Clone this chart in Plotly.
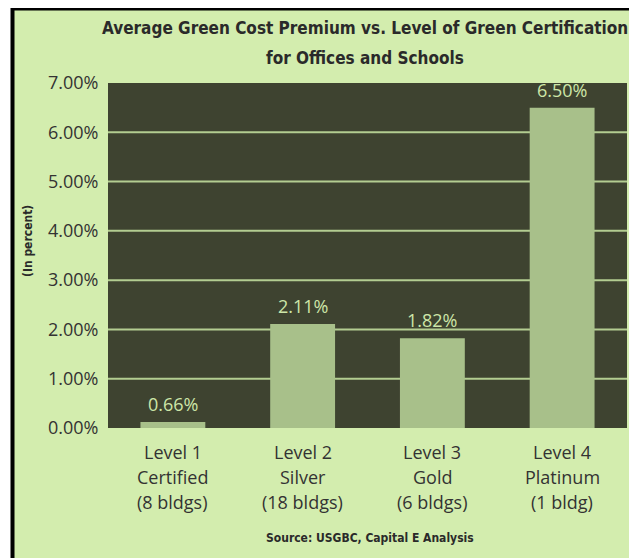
import plotly.graph_objects as go

# ---- data ----
levels = ["Level 1", "Level 2", "Level 3", "Level 4"]
cert_names = ["Certified", "Silver", "Gold", "Platinum"]
building_counts = ["(8 bldgs)", "(18 bldgs)", "(6 bldgs)", "(1 bldg)"]
premium_pct = [0.66, 2.11, 1.82, 6.50]          # labelled values
bar_heights_as_drawn = [0.12, 2.11, 1.82, 6.50]  # bar 1 is drawn far shorter than its label in the original
y_ticks = [0, 1, 2, 3, 4, 5, 6, 7]
grid_values = [1, 2, 3, 4, 5, 6]

title_lines = ["Average Green Cost Premium vs. Level of Green Certification",
               "for Offices and Schools"]
y_title = "(In percent)"
source = "Source: USGBC, Capital E Analysis"

# ---- layout geometry (page pixels; the page body adds an 8px offset) ----
OFF = 8
PAGE_W, PAGE_H = 637, 558
W, H = PAGE_W - OFF, PAGE_H - OFF
PLOT_L, PLOT_R, PLOT_T, PLOT_B = 108, 627, 83, 428  # page px
L, R = PLOT_L - OFF, W - (PLOT_R - OFF)
T, B = PLOT_T - OFF, H - (PLOT_B - OFF)
PW, PH = PLOT_R - PLOT_L, PLOT_B - PLOT_T

LIGHT = "#d3edae"
DARK = "#3e4330"
BAR = "#a8c08a"
GRID = "#b3cd91"
LABEL = "#cde6a8"
TEXT = "#333333"
COND = "Liberation Sans Narrow, DejaVu Sans Condensed, Arial Narrow, sans-serif"
REG = "Open Sans, Noto Sans, sans-serif"


def px_x(p):
    return (p - PLOT_L) / PW


def px_y(p):
    return (PLOT_B - p) / PH


fig = go.Figure()
fig.add_trace(go.Bar(
    x=levels,
    y=bar_heights_as_drawn,
    marker=dict(color=BAR, line=dict(width=0)),
    hoverinfo="skip",
))

shapes = [
    # outer framed panel
    dict(type="rect", xref="paper", yref="paper", layer="below",
         x0=px_x(12.5), x1=px_x(633.5), y0=px_y(580), y1=px_y(8.5),
         fillcolor=LIGHT, line=dict(color="black", width=4)),
    # plot area
    dict(type="rect", xref="paper", yref="paper", layer="below",
         x0=0, x1=1, y0=0, y1=1, fillcolor=DARK, line=dict(width=0)),
]
for g in grid_values:
    shapes.append(dict(type="line", xref="paper", yref="y", layer="below",
                       x0=0, x1=1, y0=g, y1=g, line=dict(color=GRID, width=2)))

annotations = []
# value labels above the bars
for cat, h, v in zip(levels, bar_heights_as_drawn, premium_pct):
    annotations.append(dict(text=f"{v:.2f}%", xref="x", yref="y", x=cat, y=h,
                            xanchor="center", yanchor="bottom", yshift=4, showarrow=False,
                            font=dict(family=REG, size=18, color=LABEL)))
for i, line in enumerate(title_lines):
    annotations.append(dict(text=f"<b>{line}</b>", xref="paper", yref="paper",
                            x=px_x(365), y=px_y(28 + 30 * i), xanchor="center", yanchor="middle",
                            showarrow=False, font=dict(family=COND, size=17, color="#2a2a2a")))
annotations.append(dict(text=f"<b>{y_title}</b>", xref="paper", yref="paper",
                        x=px_x(28), y=px_y(241), textangle=-90, xanchor="center", yanchor="middle",
                        showarrow=False, font=dict(family=COND, size=12, color="#2a2a2a")))
for labels, ypx in [(levels, 452), (cert_names, 477), (building_counts, 502)]:
    for cat, lab in zip(levels, labels):
        annotations.append(dict(text=lab, xref="x", yref="paper", x=cat, y=px_y(ypx),
                                xanchor="center", yanchor="middle", showarrow=False,
                                font=dict(family=REG, size=18, color=TEXT)))
annotations.append(dict(text=f"<b>{source}</b>", xref="paper", yref="paper",
                        x=px_x(370), y=px_y(538), xanchor="center", yanchor="middle",
                        showarrow=False, font=dict(family=COND, size=12, color="#2a2a2a")))

fig.update_layout(
    width=W, height=H,
    margin=dict(l=L, r=R, t=T, b=B, pad=0),
    paper_bgcolor="white",
    plot_bgcolor="rgba(0,0,0,0)",
    showlegend=False,
    bargap=0.5,
    shapes=shapes,
    annotations=annotations,
    xaxis=dict(showticklabels=False, showgrid=False, zeroline=False, showline=False,
               ticks="", fixedrange=True),
    yaxis=dict(range=[0, 7], tickvals=y_ticks,
               ticktext=[f"{v:.2f}%" for v in y_ticks],
               tickfont=dict(family=REG, size=18, color=TEXT),
               showgrid=False, zeroline=False, showline=False,
               ticks="outside", ticklen=5, tickcolor="rgba(0,0,0,0)", fixedrange=True),
)

fig.write_html("out.html")
